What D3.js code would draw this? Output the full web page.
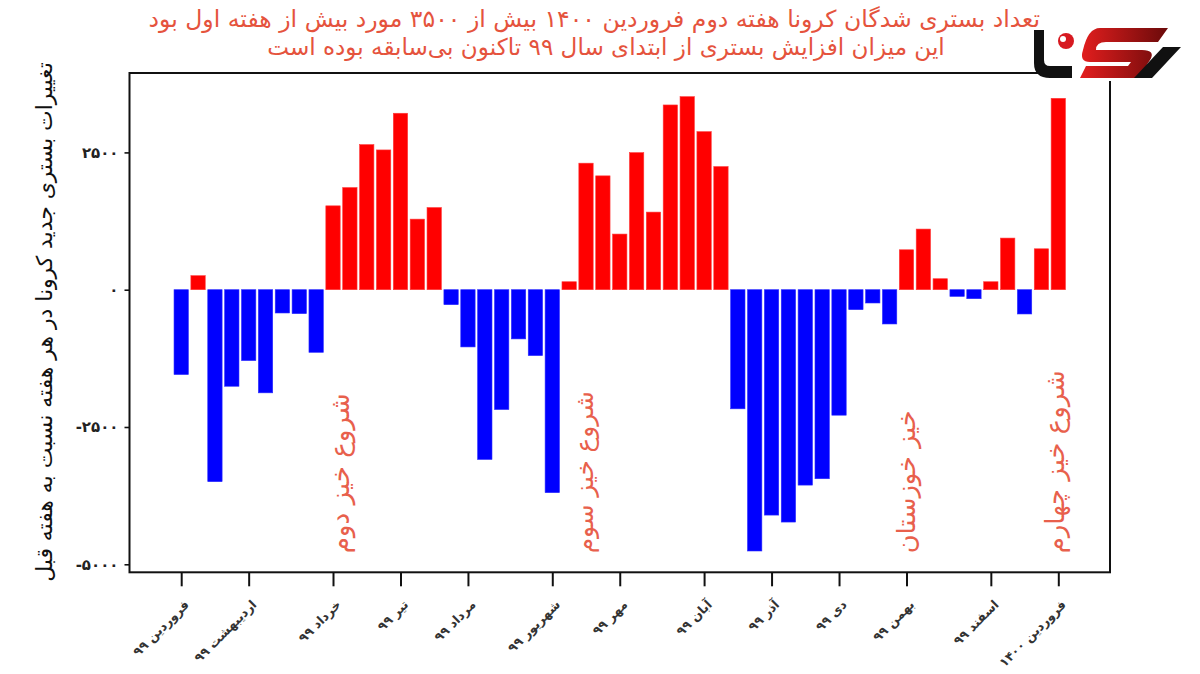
<!DOCTYPE html>
<html><head><meta charset="utf-8">
<script src="https://cdn.jsdelivr.net/npm/d3@7"></script>
<style>body{margin:0;background:#fff}svg{display:block;font-family:"DejaVu Sans",sans-serif}</style>
</head><body><svg id="c" width="1200" height="674"></svg>
<script>
// Weekly change in new COVID hospitalisations vs previous week (Farvardin 99 .. Farvardin 1400)
const weeklyChange = [-1545, 255, -3496, -1758, -1291, -1878, -424, -436, -1140, 1527,
  1860, 2642, 2545, 3213, 1285, 1496, -273, -1042, -3091, -2182,
  -896, -1200, -3696, 145, 2304, 2073, 1013, 2496, 1413, 3364,
  3515, 2878, 2242, -2169, -4758, -4104, -4231, -3558, -3442, -2285,
  -364, -242, -624, 727, 1104, 200, -122, -164, 145, 940,
  -442, 745, 3485];
const monthLabels = ["فروردین ۹۹","اردیبهشت ۹۹","خرداد ۹۹","تیر ۹۹","مرداد ۹۹","شهریور ۹۹","مهر ۹۹","آبان ۹۹","آذر ۹۹","دی ۹۹","بهمن ۹۹","اسفند ۹۹","فروردین ۱۴۰۰"];
const monthWeeks = [0, 4, 9, 13, 17, 22, 26, 31, 35, 39, 43, 48, 52];
const yTicks = [-5000, -2500, 0, 2500];
const titleLines = ["تعداد بستری شدگان کرونا هفته دوم فروردین ۱۴۰۰ بیش از ۳۵۰۰ مورد بیش از هفته اول بود",
  "این میزان افزایش بستری از ابتدای سال ۹۹ تاکنون بی‌سابقه بوده است"];
const yLabel = "تغییرات بستری جدید کرونا در هر هفته نسبت به هفته قبل";
const waveLabels = ["شروع خیز دوم", "شروع خیز سوم", "خیز خوزستان", "شروع خیز چهارم"];
const waveWeeks = [9.4, 23.9, 43.0, 51.8];
const waveBase = -4800;

const svg = d3.select("#c");
const m = {left: 129.5, right: 1110, top: 73, bottom: 572.3};
const weeks = weeklyChange.map((_, i) => i);
const x = d3.scaleBand().domain(weeks).range([m.left, m.right]).paddingInner(0.15).paddingOuter(2.64);
const xc = d3.scaleLinear().domain([0, 52]).range([x(0) + x.bandwidth() / 2, x(52) + x.bandwidth() / 2]);
const y = d3.scaleLinear().domain([-5146, 3946]).range([m.bottom, m.top]);
const fa = v => String(v).replace(/\d/g, d => "۰۱۲۳۴۵۶۷۸۹"[+d]);

function fit(sel, target) {
  const len = sel.node().getComputedTextLength();
  const fs = parseFloat(sel.attr("font-size"));
  sel.attr("font-size", fs * target / len);
}

// bars
svg.append("g").selectAll("rect").data(weeklyChange).join("rect")
  .attr("x", (d, i) => x(i)).attr("width", x.bandwidth())
  .attr("y", d => y(Math.max(0, d)))
  .attr("height", d => Math.abs(y(d) - y(0)))
  .attr("fill", d => d >= 0 ? "#ff0000" : "#0000ff")
  .attr("stroke", d => d >= 0 ? "#ff3a3a" : "#2a2aff").attr("stroke-width", 0.6);

// frame
svg.append("rect").attr("x", m.left).attr("y", m.top)
  .attr("width", m.right - m.left).attr("height", m.bottom - m.top)
  .attr("fill", "none").attr("stroke", "#111").attr("stroke-width", 2);

// y axis
const ya = svg.append("g").attr("transform", `translate(${m.left},0)`)
  .call(d3.axisLeft(y).tickValues(yTicks).tickSize(5).tickPadding(6).tickFormat(fa));
ya.select(".domain").remove();
ya.selectAll("line").attr("stroke", "#111").attr("stroke-width", 1.6);
ya.selectAll("text").attr("font-size", 15).attr("font-weight", "bold").attr("fill", "#222")
  .attr("letter-spacing", "-1.5px").attr("font-family", "DejaVu Sans");

// x axis
const xa = svg.append("g").attr("transform", `translate(0,${m.bottom})`)
  .call(d3.axisBottom(xc).tickValues(monthWeeks).tickSize(14).tickFormat((d, i) => monthLabels[i]));
xa.select(".domain").remove();
xa.selectAll("line").attr("stroke", "#111").attr("stroke-width", 2);
xa.selectAll("text").attr("font-size", 12.5).attr("font-weight", "bold").attr("fill", "#333")
  .attr("font-family", "DejaVu Sans")
  .attr("x", 0).attr("y", 0).attr("dy", "0.35em").attr("text-anchor", "end")
  .attr("transform", "translate(5,30) rotate(-45)");

// title
const tl1 = svg.append("text").attr("x", 1040).attr("y", 27).attr("text-anchor", "end")
  .attr("font-size", 22).attr("fill", "#e5533d").text(titleLines[0]);
fit(tl1, 892);
const tl2 = svg.append("text").attr("x", 606).attr("y", 55).attr("text-anchor", "middle")
  .attr("font-size", 22).attr("fill", "#e5533d").text(titleLines[1]);
fit(tl2, 678);

// y label
const yl = svg.append("text").attr("transform", "translate(52,322) rotate(-90)")
  .attr("text-anchor", "middle").attr("font-size", 20).attr("fill", "#111").text(yLabel);
fit(yl, 520);

// wave annotations
const waveW = [160, 162, 143, 183];
waveLabels.forEach((t, i) => {
  const a = svg.append("text")
    .attr("transform", `translate(${xc(waveWeeks[i])},${y(waveBase)}) rotate(-90)`)
    .attr("text-anchor", "start").attr("dy", "0.35em").attr("font-size", 22)
    .attr("fill", "#e8604c").text(t);
  fit(a, waveW[i]);
});

// logo (decorative)
const lg = svg.append("g");
lg.append("rect").attr("x", 1056).attr("y", 22).attr("width", 144).attr("height", 59).attr("fill", "#fff");
const grad = svg.append("defs").append("linearGradient").attr("id", "rg").attr("x1", 0).attr("x2", 1).attr("y1", 0).attr("y2", 0);
grad.append("stop").attr("offset", "0%").attr("stop-color", "#e41e1e");
grad.append("stop").attr("offset", "100%").attr("stop-color", "#6a0a0a");
lg.append("path").attr("fill", "#111")
  .attr("d", "M1034,30 L1044,30 L1044,60 Q1044,66 1050,66 L1072,66 L1072,78 L1050,78 Q1034,78 1034,63 Z");
lg.append("circle").attr("cx", 1066).attr("cy", 41).attr("r", 8).attr("fill", "#d71920");
lg.append("circle").attr("cx", 1063).attr("cy", 39).attr("r", 3).attr("fill", "#fff");
lg.append("path").attr("fill", "url(#rg)")
  .attr("d", "M1100,28 L1168,28 L1158,42 L1106,42 Q1096,42 1096,50 L1142,50 Q1156,50 1150,60 L1138,78 L1080,78 L1086,66 L1128,66 L1131,62 L1090,62 Q1079,62 1083,50 Q1088,28 1100,28 Z");
lg.append("path").attr("fill", "#111").attr("d", "M1163,47 L1181,47 L1152,78 L1134,78 Z");
</script></body></html>
